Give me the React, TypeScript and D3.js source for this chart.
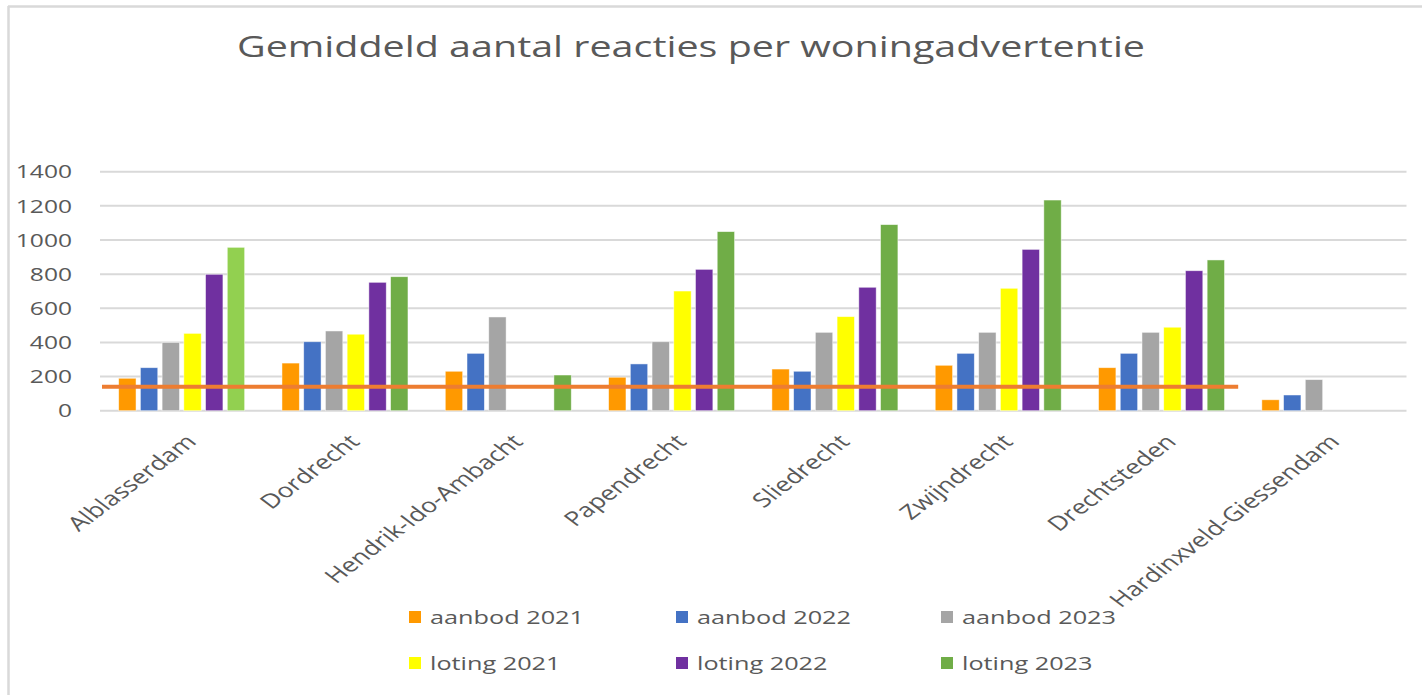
import React from 'react';
import * as d3 from 'd3';

const title = 'Gemiddeld aantal reacties per woningadvertentie';
const categories = [
  'Alblasserdam',
  'Dordrecht',
  'Hendrik-Ido-Ambacht',
  'Papendrecht',
  'Sliedrecht',
  'Zwijndrecht',
  'Drechtsteden',
  'Hardinxveld-Giessendam',
];
const seriesNames = ['aanbod 2021', 'aanbod 2022', 'aanbod 2023', 'loting 2021', 'loting 2022', 'loting 2023'];
const seriesColors = ['#FF9900', '#4472C4', '#A5A5A5', '#FFFF00', '#7030A0', '#70AD47'];
const aanbod2021 = [190, 279, 231, 196, 244, 266, 252, 64];
const aanbod2022 = [252, 404, 336, 274, 231, 336, 336, 92];
const aanbod2023 = [400, 467, 549, 404, 459, 459, 459, 182];
const loting2021 = [453, 448, null, 701, 551, 717, 489, null];
const loting2022 = [799, 752, null, 828, 723, 945, 820, null];
const loting2023 = [957, 785, 209, 1049, 1090, 1234, 883, null];
// individual point colour override (Alblasserdam loting 2023 is lighter green)
const loting2023PointColors = ['#92D050', null, null, null, null, null, null, null];
const referenceValue = 140;
const referenceEndCategory = 'Drechtsteden';
const yTicks = [0, 200, 400, 600, 800, 1000, 1200, 1400];

const seriesValues = [aanbod2021, aanbod2022, aanbod2023, loting2021, loting2022, loting2023];
const pointColors: (string | null)[][] = [[], [], [], [], [], loting2023PointColors];

const W = 1422;
const H = 695;
const SX = 1.33; // horizontal stretch of the text glyphs
const FONT = '"Open Sans", "DejaVu Sans", sans-serif';
const TEXT = '#595959';

export default function App() {
  const x = d3.scaleBand<string>().domain(categories).range([100, 1406.5]).paddingInner(0).paddingOuter(0);
  const y = d3.scaleLinear().domain([0, 1400]).range([410.7, 171.7]);
  const inner = d3
    .scaleBand<string>()
    .domain(seriesNames)
    .range([-63, 63])
    .paddingInner(0.2)
    .paddingOuter(0);

  const refX1 = (x(referenceEndCategory) ?? 0) + x.bandwidth() - 5;
  const legendCols = [409, 676, 941];
  const legendRows = [617, 663];

  return (
    <svg
      width={W}
      height={H}
      style={{ position: 'absolute', left: 0, top: 0, background: '#fff' }}
      fontFamily={FONT}
    >
      <rect x={0} y={0} width={W} height={H} fill="#fff" />
      {/* chart border */}
      <line x1={8} y1={6.5} x2={W} y2={6.5} stroke="#d9d9d9" strokeWidth={2.5} />
      <line x1={8.5} y1={6} x2={8.5} y2={H} stroke="#d9d9d9" strokeWidth={2.5} />

      {/* title */}
      <text
        x={691}
        y={57}
        textAnchor="middle"
        fontSize={29}
        fill={TEXT}
        textLength={908}
        lengthAdjust="spacingAndGlyphs"
      >
        {title}
      </text>

      {/* gridlines */}
      {yTicks.map((t) => (
        <line
          key={t}
          x1={x.range()[0]}
          x2={x.range()[1]}
          y1={y(t)}
          y2={y(t)}
          stroke="#d9d9d9"
          strokeWidth={2}
        />
      ))}

      {/* y tick labels */}
      {yTicks.map((t) => (
        <text
          key={'l' + t}
          transform={`translate(72,${y(t)}) scale(${SX},1)`}
          textAnchor="end"
          dy="0.36em"
          fontSize={18.5}
          fill={TEXT}
        >
          {t}
        </text>
      ))}

      {/* bars */}
      {categories.map((c, ci) => (
        <g key={c} transform={`translate(${(x(c) ?? 0) + x.bandwidth() / 2},0)`}>
          {seriesNames.map((s, si) => {
            const v = seriesValues[si][ci];
            if (v === null || v === undefined) return null;
            const col = pointColors[si][ci] || seriesColors[si];
            return (
              <rect
                key={s}
                x={inner(s)}
                width={inner.bandwidth()}
                y={y(v)}
                height={y(0) - y(v)}
                fill={col}
                stroke="#ffffff"
                strokeOpacity={0.6}
                strokeWidth={0.8}
              />
            );
          })}
        </g>
      ))}

      {/* reference line */}
      <line
        x1={x.range()[0] + 2}
        x2={refX1}
        y1={y(referenceValue)}
        y2={y(referenceValue)}
        stroke="#ED7D31"
        strokeWidth={4}
      />

      {/* x labels */}
      {categories.map((c) => (
        <text
          key={'x' + c}
          transform={`translate(${(x(c) ?? 0) + x.bandwidth() / 2 + 16},443) scale(${SX},1) rotate(-45)`}
          textAnchor="end"
          fontSize={20}
          fill={TEXT}
        >
          {c}
        </text>
      ))}

      {/* legend */}
      {seriesNames.map((s, i) => {
        const lx = legendCols[i % 3];
        const ly = legendRows[Math.floor(i / 3)];
        return (
          <g key={'lg' + s}>
            <rect x={lx} y={ly - 6} width={12} height={12} fill={seriesColors[i]} />
            <text
              transform={`translate(${lx + 21},${ly}) scale(${SX},1)`}
              dy="0.36em"
              fontSize={19}
              fill={TEXT}
            >
              {s}
            </text>
          </g>
        );
      })}
    </svg>
  );
}
